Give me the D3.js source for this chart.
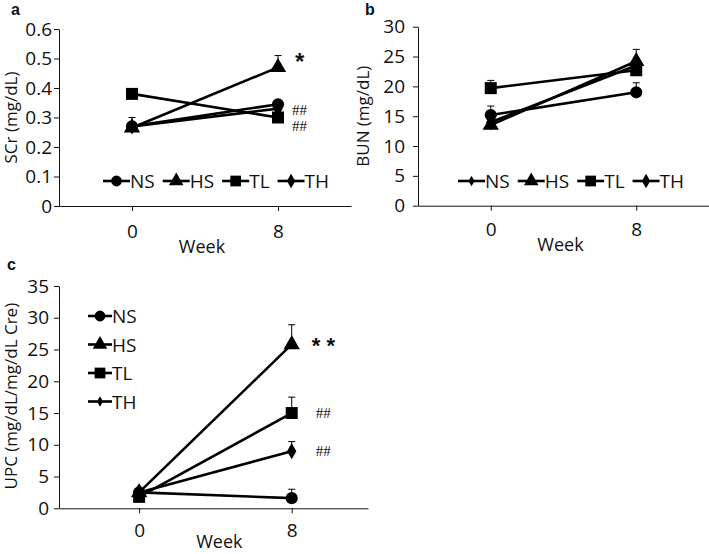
<!DOCTYPE html>
<html>
<head>
<meta charset="utf-8">
<script src="https://cdn.jsdelivr.net/npm/d3@7"></script>
<style>
  body { margin: 0; background: #fff; }
  text { font-family: "Open Sans", sans-serif; fill: #111; }
</style>
</head>
<body>
<svg id="chart" width="709" height="554"></svg>
<script>
// data
var weeks = [0, 8];
var groups = ["NS", "HS", "TL", "TH"];

var scrValues = [[0.27, 0.345], [0.265, 0.47], [0.38, 0.30], [0.27, 0.33]];
var scrErr = [[0.03, 0.01], [0.01, 0.04], [0.005, 0.01], [0.01, 0.01]];

var bunValues = [[15.2, 19.0], [13.5, 24.2], [19.7, 22.7], [14.0, 23.5]];
var bunErr = [[1.5, 1.6], [0.5, 2.0], [1.3, 0.8], [0.5, 1.0]];

var upcValues = [[2.5, 1.6], [2.5, 25.8], [1.8, 15.0], [2.5, 9.0]];
var upcErr = [[0.3, 1.4], [0.3, 3.1], [0.3, 2.5], [0.3, 1.5]];

var scrTicks = [0, 0.1, 0.2, 0.3, 0.4, 0.5, 0.6];
var bunTicks = [0, 5, 10, 15, 20, 25, 30];
var upcTicks = [0, 5, 10, 15, 20, 25, 30, 35];

var svg = d3.select("#chart");

var markerShape = {
    circle: {type: d3.symbolCircle, size: 115},
    triangle: {type: d3.symbolTriangle, size: 115},
    square: {type: d3.symbolSquare, size: 144},
    diamond: {type: d3.symbolDiamond, size: 75},
    smalldiamond: {type: d3.symbolDiamond, size: 40}
};
var plotShapes = ["circle", "triangle", "square", "diamond"];

var drawPanel = function(p)
    {
        var g = svg.append("g");
        var x = d3.scaleLinear().domain([p.xMin, 12]).range(p.xRange);
        var y = d3.scaleLinear().domain([0, p.yMax]).range(p.yRange);

        // axes
        var yAxis = d3.axisLeft(y).tickValues(p.ticks).tickSize(5).tickSizeOuter(0)
            .tickPadding(p.tickPad).tickFormat(function(d){ return d3.format("~g")(d); });
        var ya = g.append("g").attr("transform", "translate(" + p.xRange[0] + ",0)").call(yAxis);
        ya.selectAll("text").style("font-size", "19px").attr("fill", "#111");

        var xAxis = d3.axisBottom(x).tickValues(weeks).tickSize(5).tickSizeOuter(0).tickFormat(d3.format("d"));
        var xa = g.append("g").attr("transform", "translate(0," + p.yRange[0] + ")").call(xAxis);
        xa.selectAll("text").style("font-size", "19px").attr("fill", "#111").attr("dy", 0).attr("y", p.xLabelY);
        g.selectAll(".domain, .tick line").attr("stroke", "#111");

        g.append("text").attr("x", (x(0) + x(8)) / 2 + p.weekDx).attr("y", p.yRange[0] + p.weekY)
            .attr("text-anchor", "middle").style("font-size", "18px").text("Week");

        g.append("text")
            .attr("transform", "translate(" + p.titleX + "," + ((p.yRange[0] + p.yRange[1]) / 2 + p.titleShift) + ") rotate(-90)")
            .attr("text-anchor", "middle").style("font-size", "17px").text(p.title);

        g.append("text").attr("x", p.labelX).attr("y", p.labelY)
            .style("font-family", "Liberation Sans, Arial, sans-serif").style("font-weight", "bold")
            .style("font-size", "16px").text(p.label);

        // lines
        var line = d3.line().x(function(d, i){ return x(weeks[i]); }).y(function(d){ return y(d); });
        g.selectAll(".series").data(p.values).enter().append("path")
            .attr("d", line).attr("fill", "none").attr("stroke", "#000").attr("stroke-width", 2.6);

        // markers
        p.values.forEach(function(vals, gi)
            {
                var sh = markerShape[plotShapes[gi]];
                g.selectAll(null).data(vals).enter().append("path")
                    .attr("d", d3.symbol().type(sh.type).size(sh.size))
                    .attr("transform", function(d, i){ return "translate(" + x(weeks[i]) + "," + y(d) + ")"; })
                    .attr("fill", "#000");
                // error bars (upper only)
                vals.forEach(function(d, i)
                    {
                        var e = p.errors[gi][i];
                        var cx = x(weeks[i]);
                        g.append("line").attr("x1", cx).attr("x2", cx).attr("y1", y(d)).attr("y2", y(d + e))
                            .attr("stroke", "#000").attr("stroke-width", 1);
                        g.append("line").attr("x1", cx - 3.5).attr("x2", cx + 3.5).attr("y1", y(d + e)).attr("y2", y(d + e))
                            .attr("stroke", "#000").attr("stroke-width", 1);
                    });
            });

        // significance marks
        p.marks.forEach(function(m)
            {
                g.append("text").attr("x", x(8) + m.dx).attr("y", y(m.v) + m.dy)
                    .style("font-family", m.font).style("font-size", m.size + "px")
                    .style("font-weight", m.bold ? "bold" : "normal").text(m.t);
            });

        // legend
        var lx = p.legend.x, ly = p.legend.y;
        var segLen = p.legend.vertical ? 24 : 27;
        groups.forEach(function(name, gi)
            {
                var sh = markerShape[p.legend.shapes[gi]];
                var item = g.append("g").attr("transform", "translate(" + lx + "," + ly + ")");
                item.append("line").attr("x1", 0).attr("x2", segLen).attr("y1", 0).attr("y2", 0)
                    .attr("stroke", "#000").attr("stroke-width", 2.6);
                item.append("path").attr("d", d3.symbol().type(sh.type).size(sh.size * 0.8))
                    .attr("transform", "translate(" + segLen / 2 + ",0)").attr("fill", "#000");
                var t = item.append("text").attr("x", segLen).attr("y", 7).style("font-size", "19px").text(name);
                if (p.legend.vertical)
                    { ly += p.legend.step; }
                else
                    { lx += segLen + t.node().getComputedTextLength() + 8; }
            });
    };

drawPanel({
    xMin: -4, xRange: [59, 351], yRange: [206, 29], yMax: 0.6, ticks: scrTicks, tickPad: 2,
    xLabelY: 32, weekY: 47, weekDx: -3, title: "SCr (mg/dL)", titleX: 17, titleShift: 0,
    label: "a", labelX: 11, labelY: 15,
    values: scrValues, errors: scrErr,
    marks: [
        {t: "*", v: 0.47, dx: 17, dy: 3, size: 24, font: "Liberation Sans, sans-serif", bold: true},
        {t: "##", v: 0.345, dx: 14, dy: 11, size: 15, font: "Liberation Serif, serif"},
        {t: "##", v: 0.30, dx: 14, dy: 13, size: 15, font: "Liberation Serif, serif"}
    ],
    legend: {x: 103, y: 181, shapes: ["circle", "triangle", "square", "diamond"]}
});

drawPanel({
    xMin: -4, xRange: [418, 709], yRange: [205.7, 26.7], yMax: 30, ticks: bunTicks, tickPad: 8,
    xLabelY: 30, weekY: 45, weekDx: -3, title: "BUN (mg/dL)", titleX: 369, titleShift: 0,
    label: "b", labelX: 365, labelY: 15,
    values: bunValues, errors: bunErr,
    marks: [],
    legend: {x: 458, y: 181, shapes: ["smalldiamond", "triangle", "square", "diamond"]}
});

drawPanel({
    xMin: -4.2, xRange: [59, 368], yRange: [508.3, 286], yMax: 35, ticks: upcTicks, tickPad: 5,
    xLabelY: 29, weekY: 39.5, weekDx: 4, title: "UPC (mg/dL/mg/dL Cre)", titleX: 17, titleShift: -1,
    label: "c", labelX: 7, labelY: 270,
    values: upcValues, errors: upcErr,
    marks: [
        {t: "* *", v: 25.8, dx: 20, dy: 9, size: 22, font: "Liberation Sans, sans-serif", bold: true},
        {t: "##", v: 15.0, dx: 24, dy: 5, size: 15, font: "Liberation Serif, serif"},
        {t: "##", v: 9.0, dx: 24, dy: 5, size: 15, font: "Liberation Serif, serif"}
    ],
    legend: {x: 88, y: 316, vertical: true, step: 28.5, shapes: ["circle", "triangle", "square", "smalldiamond"]}
});
</script>
</body>
</html>
